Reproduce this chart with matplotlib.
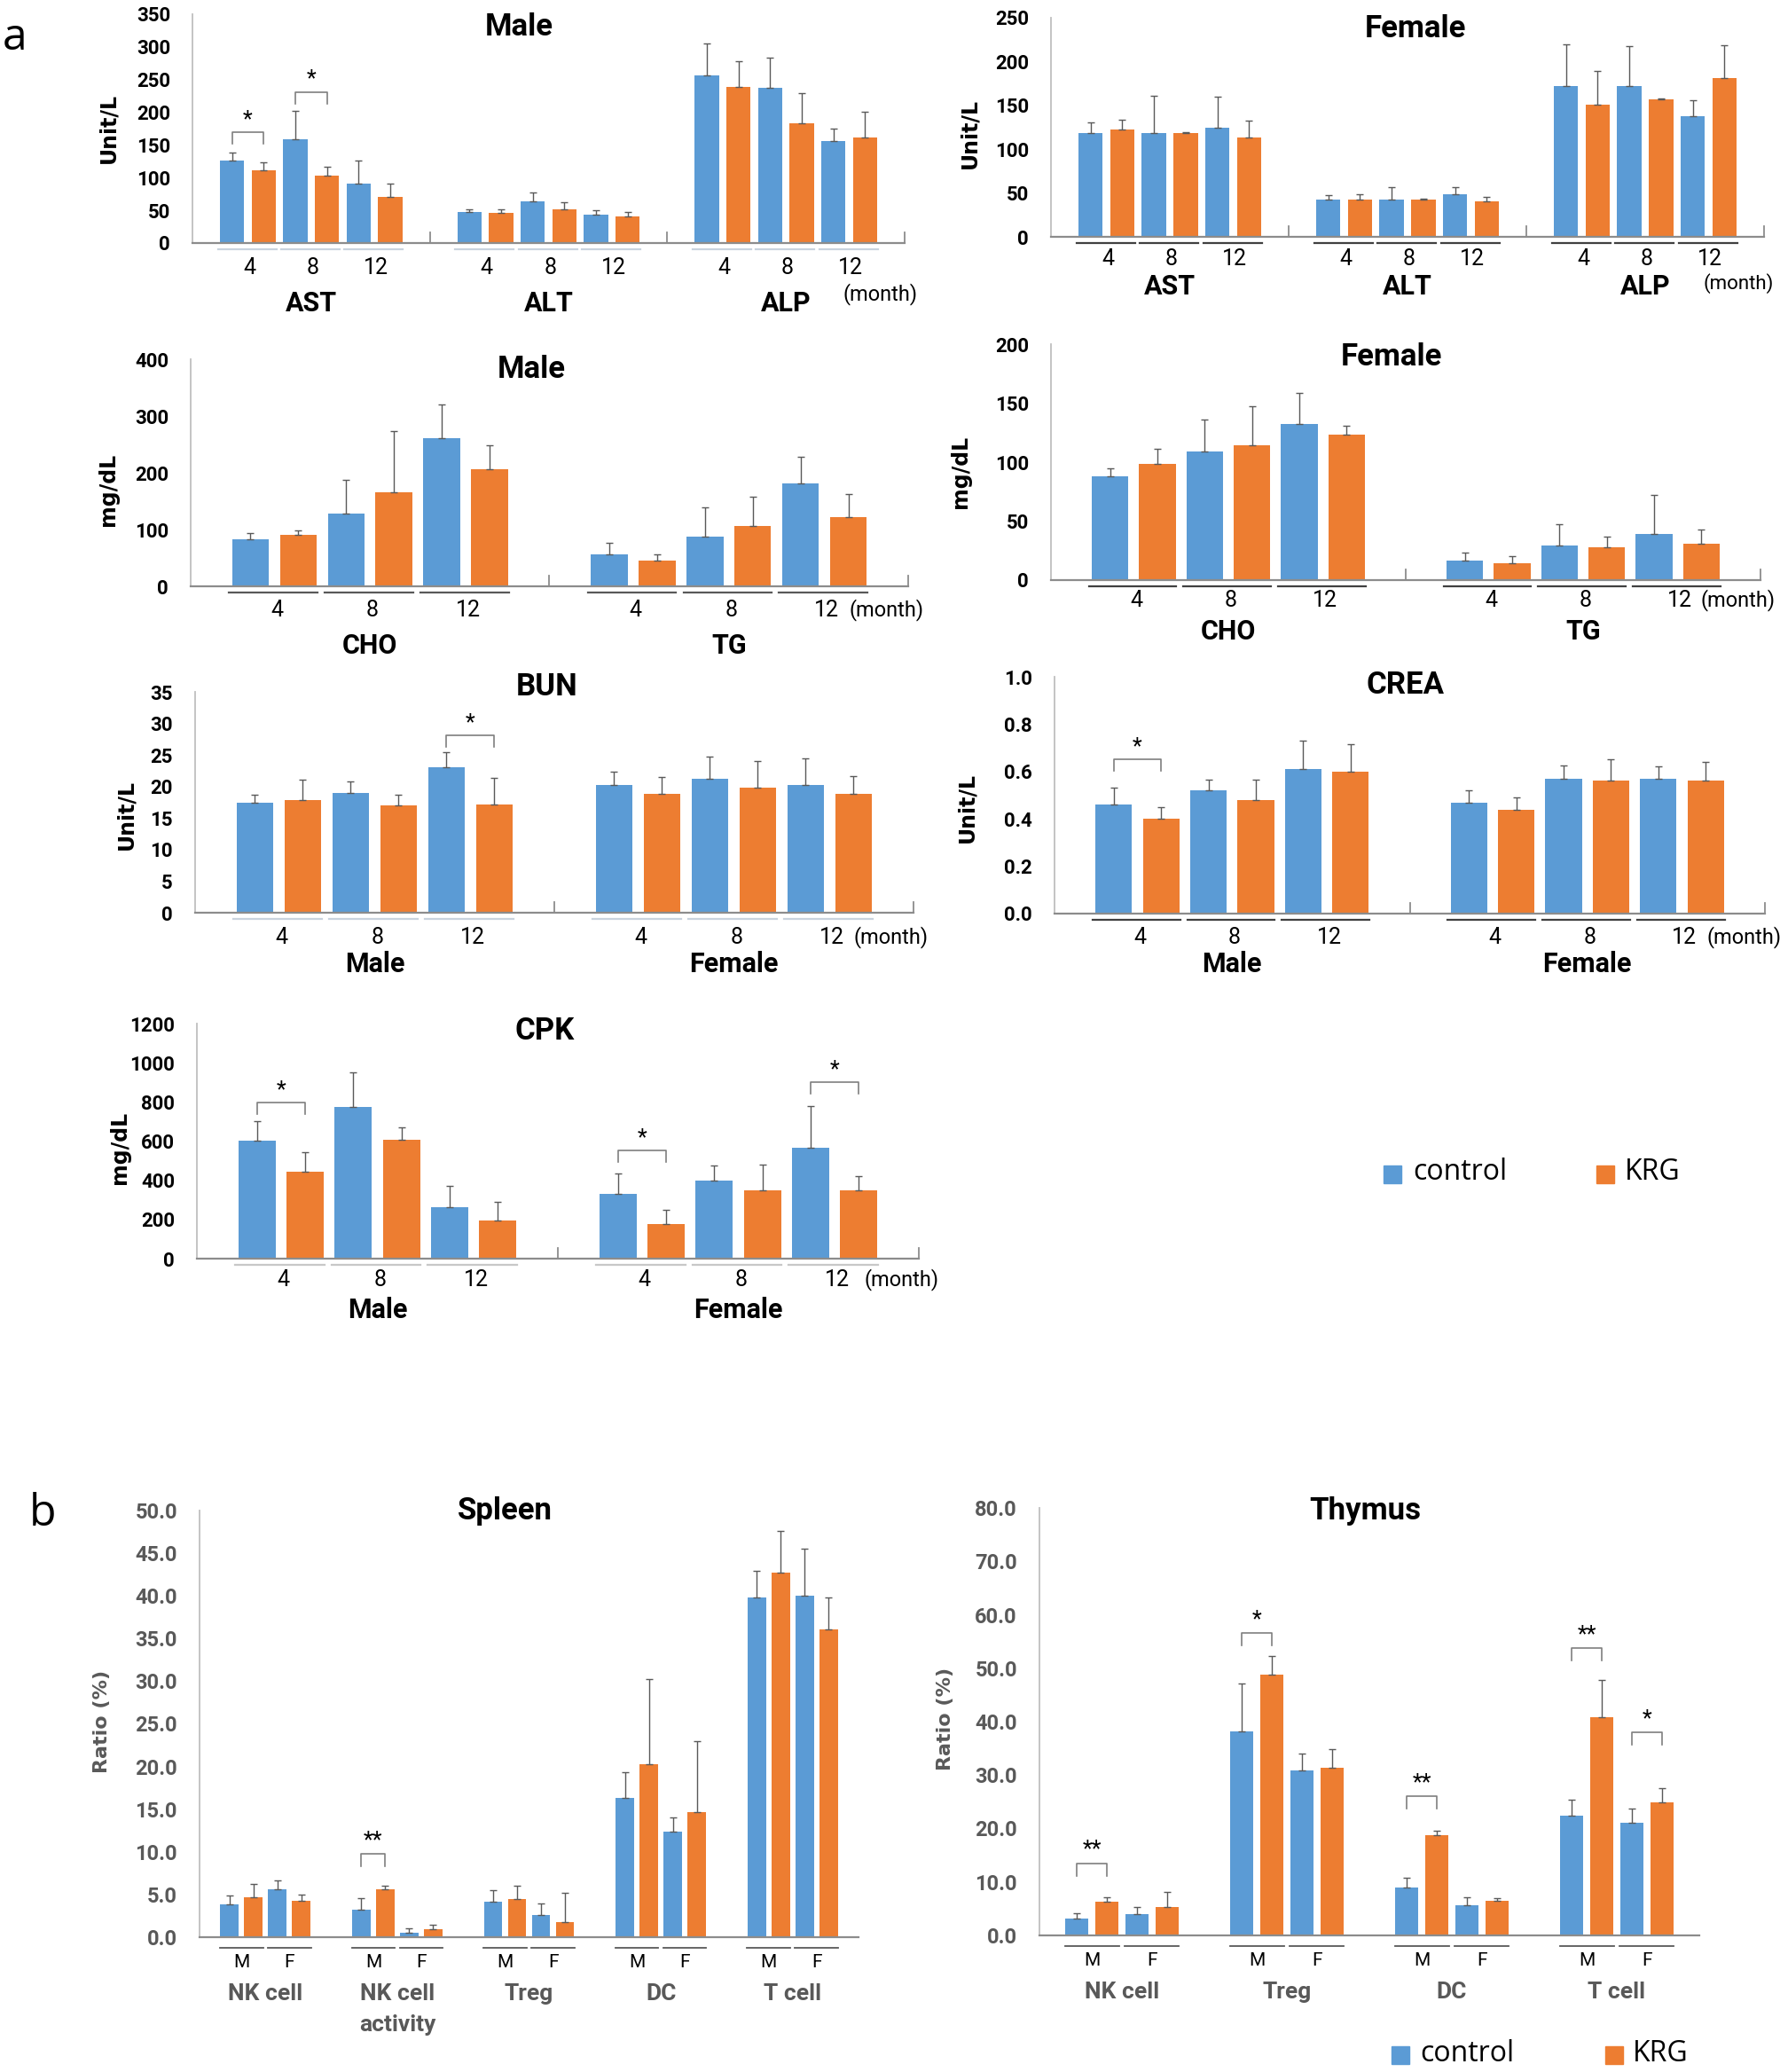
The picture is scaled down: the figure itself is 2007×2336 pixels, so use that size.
import numpy as np
import matplotlib.pyplot as plt
from matplotlib import font_manager

# ---- data (mean, sd) ----
months = ['4', '8', '12']

# Male liver enzymes: AST, ALT, ALP at 4/8/12 months
liver_m_groups = ['AST', 'ALT', 'ALP']
liver_m_ctrl = [126, 159, 91, 47, 64, 44, 257, 238, 156]
liver_m_ctrl_sd = [13, 43, 35, 4, 14, 6, 48, 45, 19]
liver_m_krg = [111, 103, 71, 46, 51, 41, 239, 183, 162]
liver_m_krg_sd = [13, 14, 20, 6, 12, 6, 39, 46, 39]

# Female liver enzymes
liver_f_groups = ['AST', 'ALT', 'ALP']
liver_f_ctrl = [118, 118, 125, 43, 43, 49, 172, 172, 138]
liver_f_ctrl_sd = [13, 43, 35, 5, 14, 8, 48, 46, 18]
liver_f_krg = [122, 118, 113, 43, 43, 40, 151, 157, 181]
liver_f_krg_sd = [12, 1, 20, 6, 1, 6, 38, 1, 38]

# Male lipids: CHO, TG
lipid_m_groups = ['CHO', 'TG']
lipid_m_ctrl = [83, 128, 261, 57, 87, 181]
lipid_m_ctrl_sd = [11, 59, 59, 19, 52, 47]
lipid_m_krg = [90, 166, 207, 45, 106, 122]
lipid_m_krg_sd = [9, 108, 41, 12, 52, 40]

# Female lipids
lipid_f_groups = ['CHO', 'TG']
lipid_f_ctrl = [88, 109, 132, 16.5, 29, 39]
lipid_f_ctrl_sd = [7, 27, 27, 7, 18, 33]
lipid_f_krg = [98.5, 114, 123, 14, 28, 31]
lipid_f_krg_sd = [13, 33, 8, 6, 9, 12]

sex_groups = ['Male', 'Female']
bun_ctrl = [17.4, 19.0, 23.1, 20.2, 21.2, 20.2]
bun_ctrl_sd = [1.3, 1.8, 2.4, 2.1, 3.5, 4.2]
bun_krg = [17.8, 17.0, 17.1, 18.9, 19.8, 18.8]
bun_krg_sd = [3.3, 1.7, 4.3, 2.6, 4.3, 2.8]

crea_ctrl = [0.46, 0.52, 0.61, 0.47, 0.57, 0.57]
crea_ctrl_sd = [0.07, 0.045, 0.12, 0.05, 0.055, 0.05]
crea_krg = [0.40, 0.48, 0.60, 0.44, 0.56, 0.56]
crea_krg_sd = [0.05, 0.085, 0.115, 0.05, 0.09, 0.08]

cpk_ctrl = [601, 774, 264, 330, 397, 568]
cpk_ctrl_sd = [103, 177, 107, 103, 77, 209]
cpk_krg = [444, 606, 193, 177, 348, 348]
cpk_krg_sd = [101, 62, 98, 74, 131, 75]

# Immune cells, M then F inside each group
spleen_groups = ['NK cell', 'NK cell\nactivity', 'Treg', 'DC', 'T cell']
spleen_ctrl = [3.81, 5.65, 3.27, 0.49, 4.17, 2.56, 16.3, 12.4, 39.8, 40.0]
spleen_ctrl_sd = [1.12, 1.03, 1.30, 0.50, 1.30, 1.39, 3.0, 1.6, 3.1, 5.5]
spleen_krg = [4.71, 4.26, 5.65, 0.94, 4.48, 1.79, 20.3, 14.7, 42.7, 36.05]
spleen_krg_sd = [1.48, 0.76, 0.35, 0.54, 1.57, 3.37, 9.9, 8.3, 4.9, 3.75]

thymus_groups = ['NK cell', 'Treg', 'DC', 'T cell']
thymus_ctrl = [3.2, 3.95, 38.2, 30.9, 9.0, 5.7, 22.45, 21.1]
thymus_ctrl_sd = [1.0, 1.43, 8.9, 3.2, 1.8, 1.36, 3.0, 2.7]
thymus_krg = [6.3, 5.3, 48.8, 31.4, 18.8, 6.4, 40.9, 24.9]
thymus_krg_sd = [0.86, 2.87, 3.5, 3.4, 0.8, 0.65, 6.9, 2.6]

BLUE = '#5B9BD5'
ORANGE = '#ED7D31'

names = {f.name for f in font_manager.fontManager.ttflist}
NARROW = 'Liberation Sans Narrow' if 'Liberation Sans Narrow' in names else 'Roboto'

W, H = 2008, 2336
fig = plt.figure(figsize=(W / 100, H / 100), dpi=100)


def add_ax(l, r, t, b):
    return fig.add_axes([l / W, 1 - b / H, (r - l) / W, (b - t) / H])


def ftext(x, y, s, **kw):
    kw.setdefault('ha', 'center')
    kw.setdefault('va', 'center')
    fig.text(x / W, 1 - y / H, s, **kw)


def style_axes(ax, ymax, ystep, fmt, tick_color='black', size=16):
    ax.set_ylim(0, ymax)
    ticks = np.arange(0, ymax + ystep / 2, ystep)
    ax.set_yticks(ticks)
    ax.set_yticklabels([fmt.format(v) for v in ticks], fontfamily=NARROW,
                       fontweight='bold', fontsize=size, color=tick_color)
    ax.tick_params(axis='y', length=0, pad=18)
    ax.set_xticks([])
    for s in ['top', 'right']:
        ax.spines[s].set_visible(False)
    ax.spines['left'].set_color('#bfbfbf')
    ax.spines['bottom'].set_color('#8c8c8c')
    ax.spines['left'].set_linewidth(1.3)
    ax.spines['bottom'].set_linewidth(1.6)


def draw_bars(ax, xc, xk, ctrl, ctrl_sd, krg, krg_sd, width):
    ax.bar(xc, ctrl, width, color=BLUE)
    ax.bar(xk, krg, width, color=ORANGE)
    ax.errorbar(xc, ctrl, yerr=[np.zeros(len(ctrl)), ctrl_sd], fmt='none',
                ecolor='#595959', elinewidth=1, capsize=3, capthick=1)
    ax.errorbar(xk, krg, yerr=[np.zeros(len(krg)), krg_sd], fmt='none',
                ecolor='#595959', elinewidth=1, capsize=3, capthick=1)


def bracket(ax, x0, x1, y, leg_px, ax_h, ymax, star, size=18, star_dy=14):
    leg = leg_px / ax_h * ymax
    ax.plot([x0, x0, x1, x1], [y - leg, y, y, y - leg], color='#7f7f7f', lw=1.2,
            clip_on=False)
    ax.text((x0 + x1) / 2, y + star_dy / ax_h * ymax, star, ha='center', va='center',
            fontsize=size, fontfamily=NARROW)


def panel_a(box, groups, ctrl, ctrl_sd, krg, krg_sd, ymax, ystep, fmt,
            month_dy, group_dy, line_col, brackets=()):
    l, r, t, b = box
    ax_h = b - t
    ax = add_ax(l, r, t, b)
    n = len(groups)
    xc = [s * 7.5 + 1.25 + 2 * p for s in range(n) for p in range(3)]
    xk = [x + 1 for x in xc]
    draw_bars(ax, xc, xk, ctrl, ctrl_sd, krg, krg_sd, 0.77)
    ax.set_xlim(0, 7.5 * n)
    style_axes(ax, ymax, ystep, fmt)
    # small divider ticks between sections
    for s in range(1, n + 1):
        ax.plot([7.5 * s, 7.5 * s], [0, 12 / ax_h], color='#8c8c8c', lw=1.3,
                transform=ax.get_xaxis_transform(), clip_on=False)
    for i, x in enumerate(xc):
        ax.plot([x - 0.45, x + 1.4], [-7 / ax_h, -7 / ax_h], color=line_col, lw=1.6,
                transform=ax.get_xaxis_transform(), clip_on=False)
        ax.text(x + 0.55, -month_dy / ax_h, months[i % 3], ha='center', va='center',
                fontsize=18, fontfamily=NARROW, transform=ax.get_xaxis_transform())
    for s, g in enumerate(groups):
        ax.text(s * 7.5 + 3.75, -group_dy / ax_h, g, ha='center', va='center',
                fontsize=22, fontweight='bold', fontfamily=NARROW,
                transform=ax.get_xaxis_transform())
    for (k, y, star) in brackets:
        bracket(ax, xc[k], xk[k], y, 13, ax_h, ymax, star)
    return ax


def panel_b(box, groups, ctrl, ctrl_sd, krg, krg_sd, ymax, ystep, brackets=()):
    l, r, t, b = box
    ax_h = b - t
    ax = add_ax(l, r, t, b)
    n = len(groups)
    xc = [g * 5.5 + 1.25 + 2 * p for g in range(n) for p in range(2)]
    xk = [x + 1 for x in xc]
    draw_bars(ax, xc, xk, ctrl, ctrl_sd, krg, krg_sd, 0.77)
    ax.set_xlim(0, 5.5 * n)
    style_axes(ax, ymax, ystep, '{:.1f}', tick_color='#595959', size=17)
    for i, x in enumerate(xc):
        ax.plot([x - 0.4, x + 1.4], [-12 / ax_h, -12 / ax_h], color='#595959', lw=1.3,
                transform=ax.get_xaxis_transform(), clip_on=False)
        ax.text(x + 0.5, -28 / ax_h, 'MF'[i % 2], ha='center', va='center',
                fontsize=15, fontfamily=NARROW, transform=ax.get_xaxis_transform())
    for g, name in enumerate(groups):
        for j, line in enumerate(name.split('\n')):
            ax.text(g * 5.5 + 2.75, -(64 + 35 * j) / ax_h, line, ha='center', va='center',
                    fontsize=19, fontweight='bold', fontfamily=NARROW, color='#595959',
                    transform=ax.get_xaxis_transform())
    for (k, y, star) in brackets:
        bracket(ax, xc[k], xk[k], y, 14, ax_h, ymax, star, size=18, star_dy=15)
    return ax


# ---- panel a ----
ax1 = panel_a((217, 1020, 16, 274), liver_m_groups, liver_m_ctrl, liver_m_ctrl_sd,
              liver_m_krg, liver_m_krg_sd, 350, 50, '{:.0f}', 28, 68, '#c9d3de',
              brackets=[(0, 169, '*'), (1, 231, '*')])
ftext(585, 30, 'Male', fontsize=25, fontweight='bold', fontfamily=NARROW)
ftext(122, 144, 'Unit/L', rotation=90, fontsize=17, fontweight='bold')
ftext(993, 332, '(month)', fontsize=17, fontfamily=NARROW)

ax2 = panel_a((1185, 1989, 20, 267), liver_f_groups, liver_f_ctrl, liver_f_ctrl_sd,
              liver_f_krg, liver_f_krg_sd, 250, 50, '{:.0f}', 25, 56, '#404040')
ftext(1596, 32, 'Female', fontsize=25, fontweight='bold', fontfamily=NARROW)
ftext(1093, 150, 'Unit/L', rotation=90, fontsize=17, fontweight='bold')
ftext(1960, 320, '(month)', fontsize=16, fontfamily=NARROW)

ax3 = panel_a((215, 1024, 405, 661), lipid_m_groups, lipid_m_ctrl, lipid_m_ctrl_sd,
              lipid_m_krg, lipid_m_krg_sd, 400, 100, '{:.0f}', 27, 67, '#595959')
ftext(599, 417, 'Male', fontsize=25, fontweight='bold', fontfamily=NARROW)
ftext(122, 552, 'mg/dL', rotation=90, fontsize=17, fontweight='bold')
ftext(1000, 688, '(month)', fontsize=17, fontfamily=NARROW)

ax4 = panel_a((1185, 1985, 388, 654), lipid_f_groups, lipid_f_ctrl, lipid_f_ctrl_sd,
              lipid_f_krg, lipid_f_krg_sd, 200, 50, '{:.0f}', 23, 58, '#404040')
ftext(1569, 403, 'Female', fontsize=25, fontweight='bold', fontfamily=NARROW)
ftext(1083, 532, 'mg/dL', rotation=90, fontsize=17, fontweight='bold')
ftext(1960, 677, '(month)', fontsize=17, fontfamily=NARROW)

ax5 = panel_a((220, 1030, 780, 1029), sex_groups, bun_ctrl, bun_ctrl_sd,
              bun_krg, bun_krg_sd, 35, 5, '{:.0f}', 28, 58, '#c9d3de',
              brackets=[(2, 28.1, '*')])
ftext(617, 775, 'BUN', fontsize=25, fontweight='bold', fontfamily=NARROW)
ftext(142, 919, 'Unit/L', rotation=90, fontsize=17, fontweight='bold')
ftext(1005, 1057, '(month)', fontsize=17, fontfamily=NARROW)

ax6 = panel_a((1189, 1990, 763, 1030), sex_groups, crea_ctrl, crea_ctrl_sd,
              crea_krg, crea_krg_sd, 1.0, 0.2, '{:.1f}', 27, 57, '#404040',
              brackets=[(0, 0.6525, '*')])
ftext(1585, 773, 'CREA', fontsize=25, fontweight='bold', fontfamily=NARROW)
ftext(1090, 911, 'Unit/L', rotation=90, fontsize=17, fontweight='bold')
ftext(1967, 1057, '(month)', fontsize=17, fontfamily=NARROW)

ax7 = panel_a((222, 1036, 1154, 1419), sex_groups, cpk_ctrl, cpk_ctrl_sd,
              cpk_krg, cpk_krg_sd, 1200, 200, '{:.0f}', 24, 58, '#c8c8c8',
              brackets=[(0, 795, '*'), (3, 552, '*'), (5, 899, '*')])
ftext(614, 1162, 'CPK', fontsize=25, fontweight='bold', fontfamily=NARROW)
ftext(135, 1294, 'mg/dL', rotation=90, fontsize=17, fontweight='bold')
ftext(1017, 1443, '(month)', fontsize=17, fontfamily=NARROW)

# ---- panel b ----
bx1 = panel_b((225, 968, 1703, 2184), spleen_groups, spleen_ctrl, spleen_ctrl_sd,
              spleen_krg, spleen_krg_sd, 50, 5, brackets=[(2, 9.73, '**')])
ftext(569, 1703, 'Spleen', fontsize=25, fontweight='bold', fontfamily=NARROW)
ftext(115, 1941, 'Ratio (%)', rotation=90, fontsize=16, fontweight='bold', color='#595959')

bx2 = panel_b((1172, 1916, 1700, 2182), thymus_groups, thymus_ctrl, thymus_ctrl_sd,
              thymus_krg, thymus_krg_sd, 80, 10,
              brackets=[(0, 13.5, '**'), (2, 56.6, '*'), (4, 26.0, '**'),
                        (6, 53.8, '**'), (7, 37.95, '*')])
ftext(1539, 1703, 'Thymus', fontsize=25, fontweight='bold', fontfamily=NARROW)
ftext(1066, 1938, 'Ratio (%)', rotation=90, fontsize=16, fontweight='bold', color='#595959')

# panel letters
ftext(17, 43, 'a', fontsize=36, fontfamily='Open Sans')
ftext(48, 1707, 'b', fontsize=36, fontfamily='Open Sans')


# legends drawn as squares + text
def legend(y, xs_ctrl, xs_krg, xt_ctrl, xt_krg):
    for x, c in [(xs_ctrl, BLUE), (xs_krg, ORANGE)]:
        fig.patches.append(plt.Rectangle(((x - 10) / W, 1 - (y + 10) / H), 20 / W, 20 / H,
                                         color=c, transform=fig.transFigure))
    ftext(xt_ctrl, y - 2, 'control', ha='left', fontsize=23, fontfamily='Open Sans')
    ftext(xt_krg, y - 2, 'KRG', ha='left', fontsize=23, fontfamily='Open Sans')


legend(1324, 1570, 1810, 1593, 1832)
legend(2317, 1579, 1820, 1601, 1841)

fig.savefig('out.png', dpi=100)
